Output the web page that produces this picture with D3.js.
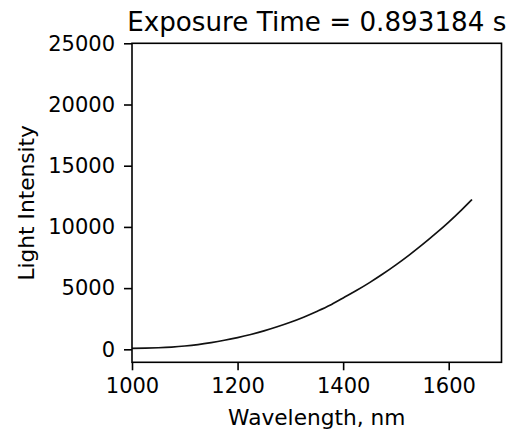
<!DOCTYPE html>
<html>
<head>
<meta charset="utf-8">
<script src="https://cdn.jsdelivr.net/npm/d3@7"></script>
<style>
    body { margin: 0; background: #fff; }
    .chart text { font-family: "DejaVu Sans", sans-serif; fill: #000; }
    .axis .domain { display: none; }
    .axis line { stroke: #000; stroke-width: 1.6; }
    .axis text { font-size: 21px; }
</style>
</head>
<body>
<div id="chart"></div>
<script>
// Data
const wavelengths = [1000, 1025, 1050, 1075, 1100, 1125, 1150, 1175, 1200, 1225,
    1250, 1275, 1300, 1325, 1350, 1375, 1400, 1425, 1450, 1475, 1500, 1525,
    1550, 1575, 1600, 1625, 1644];
const intensities = [70, 95, 130, 185, 270, 390, 550, 740, 960, 1215,
    1505, 1840, 2210, 2625, 3090, 3595, 4200, 4800, 5450, 6150, 6900, 7700,
    8550, 9450, 10400, 11420, 12240];
const xTicks = [1000, 1200, 1400, 1600];
const yTicks = [0, 5000, 10000, 15000, 20000, 25000];
const title = 'Exposure Time = 0.893184 s';

const width = 508;
const height = 429;
const margin = {top: 43.3, right: 6.5, bottom: 66.7, left: 132};
const chartWidth = width - margin.left - margin.right;
const chartHeight = height - margin.top - margin.bottom;

const data = wavelengths.map((w, i) => ({w, v: intensities[i]}));

const xScale = d3.scaleLinear()
    .domain([1000, 1700])
    .range([0, chartWidth]);

const yScale = d3.scaleLinear()
    .domain([-1060, 25000])
    .range([chartHeight, 0]);

const svg = d3.select('#chart')
  .append('svg')
    .classed('chart', true)
    .attr('width', width)
    .attr('height', height);

const container = svg.append('g')
    .attr('transform', `translate(${margin.left},${margin.top})`);

// Axes
container.append('g')
    .classed('axis', true)
    .attr('transform', `translate(0,${chartHeight})`)
    .call(d3.axisBottom(xScale).tickValues(xTicks).tickSize(8).tickPadding(7.3).tickFormat(d3.format('d')));

container.append('g')
    .classed('axis', true)
    .call(d3.axisLeft(yScale).tickValues(yTicks).tickSize(8).tickPadding(9).tickFormat(d3.format('d')));

// Line
container.append('path')
    .datum(data)
    .attr('fill', 'none')
    .attr('stroke', '#111')
    .attr('stroke-width', 1.7)
    .attr('d', d3.line()
        .x(d => xScale(d.w))
        .y(d => yScale(d.v))
        .curve(d3.curveMonotoneX));

// Frame
container.append('rect')
    .attr('width', chartWidth)
    .attr('height', chartHeight)
    .attr('fill', 'none')
    .attr('stroke', '#000')
    .attr('stroke-width', 1.6);

// Labels
svg.append('text')
    .attr('x', margin.left + chartWidth / 2)
    .attr('y', 31)
    .attr('text-anchor', 'middle')
    .style('font-size', '26.2px')
    .text(title);

svg.append('text')
    .attr('x', margin.left + chartWidth / 2)
    .attr('y', 425)
    .attr('text-anchor', 'middle')
    .style('font-size', '21.7px')
    .text('Wavelength, nm');

svg.append('text')
    .attr('transform', `translate(33.5,${margin.top + chartHeight / 2}) rotate(-90)`)
    .attr('text-anchor', 'middle')
    .style('font-size', '21.7px')
    .text('Light Intensity');
</script>
</body>
</html>
